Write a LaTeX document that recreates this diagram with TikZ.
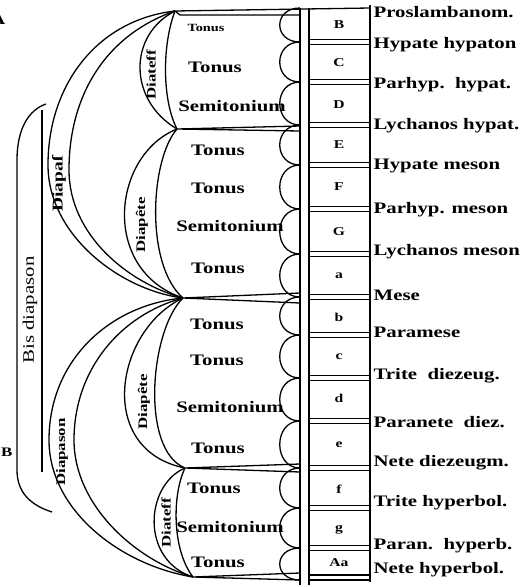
\documentclass[tikz,border=0pt]{standalone}
\usepackage{fontspec}
\setmainfont{Liberation Serif}[FakeStretch=1.3]
\usetikzlibrary{positioning}

\begin{document}
\begin{tikzpicture}[
    x=1pt, y=-1pt,
    line width=1.3pt,
    tone/.style={font=\fontsize{16}{16}\selectfont\bfseries, inner sep=0pt},
    note/.style={anchor=west, font=\fontsize{16}{16}\selectfont\bfseries, inner sep=0pt},
    key/.style={font=\fontsize{12}{12}\selectfont\bfseries, inner sep=0pt},
    span/.style={rotate=90, font=\fontsize{13}{13}\selectfont\bfseries, inner sep=0pt}
]
\useasboundingbox (0,0) rectangle (526,587);

% Apex points
\coordinate (apexA) at (175,11);
\coordinate (apexB) at (177,129);
\coordinate (apexC) at (183,298);
\coordinate (apexD) at (185,468);
\coordinate (apexE) at (193,577);

% Strips and boxes
\draw (300,8) -- (300,585);
\draw (309,8) -- (309,585);
\draw (370,5) -- (370,582);
\draw (370,8) -- (apexA) -- (180,15) -- (300,15);
\draw (300,126) -- (apexB) -- (300,131);
\draw (300,293) -- (apexC) -- (300,303);
\draw (300,464) -- (apexD) -- (300,472);
\draw (300,573) -- (apexE) -- (300,580);
\draw (309,575) -- (370,575);
\draw (309,580) -- (370,580);
\foreach \s in {42,82,125,165,209,254,297,335,378,421,468,508,548}{
    \draw (309,\s-2.5) -- (370,\s-2.5);
    \draw (309,\s+2.5) -- (370,\s+2.5);
}
\foreach \ya/\yb in {8/42,42/82,82/125,125/165,165/209,209/254,254/297,297/335,335/378,378/421,421/468,468/508,508/548,548/580}
    \draw (300,\ya) .. controls (273,\ya) and (273,\yb) .. (300,\yb);

% Arcs
\draw (apexA) .. controls (97,20) and (48,85) .. (48,165) .. controls (48,235) and (120,290) .. (apexC);
\draw (apexA) .. controls (106,35) and (69,95) .. (69,170) .. controls (69,235) and (128,283) .. (apexC);
\draw (apexA) .. controls (128,35) and (128,100) .. (apexB);
\draw (apexA) .. controls (162,45) and (162,100) .. (apexB);
\draw (apexB) .. controls (112,155) and (100,270) .. (apexC);
\draw (apexB) .. controls (150,160) and (145,265) .. (apexC);
\draw (apexC) .. controls (110,305) and (49,360) .. (49,440) .. controls (49,510) and (120,565) .. (apexE);
\draw (apexC) .. controls (120,315) and (74,370) .. (74,440) .. controls (74,505) and (135,560) .. (apexE);
\draw (apexC) .. controls (115,330) and (95,450) .. (apexD);
\draw (apexC) .. controls (150,330) and (140,450) .. (apexD);
\draw (apexD) .. controls (145,485) and (140,560) .. (apexE);
\draw (apexD) .. controls (172,495) and (172,550) .. (apexE);
\draw (46,104) .. controls (28,110) and (17,130) .. (17,160) -- (17,470) .. controls (17,492) and (30,505) .. (52,512);
\draw (42,110) -- (42,472);

% Span labels
\node[span] (diatessA) at (151,75) {Diateff};
\node[span, font=\fontsize{15}{15}\selectfont\bfseries] (diapasA) at (59,184) {Diapaſ};
\node[span] (diapenA) at (142,225) {Diapête};
\node[span] (diapenB) at (144,402) {Diapête};
\node[span] (diapasB) at (62,452) {Diapason};
\node[span] (diatessB) at (166,523) {Diateff};
\node[span, font=\fontsize{16}{16}\selectfont] (bisdiap) at (30,310) {Bis diapason};
\node[tone, anchor=east] (letA) at (6,19) {A};
\node[tone, font=\fontsize{13}{13}\selectfont\bfseries, anchor=west] (letB) at (0.5,452) {B};

% Intervals
\node[tone, font=\fontsize{11}{11}\selectfont\bfseries] (tonA) at (206,28) {Tonus};
\node[tone] (tonB) at (215,67) {Tonus};
\node[tone] (semiA) at (232,106) {Semitonium};
\node[tone] (tonC) at (218,150) {Tonus};
\node[tone] (tonD) at (218,188) {Tonus};
\node[tone] (semiB) at (230,226) {Semitonium};
\node[tone] (tonE) at (218,268) {Tonus};
\node[tone] (tonF) at (217,324) {Tonus};
\node[tone] (tonG) at (217,360) {Tonus};
\node[tone] (semiC) at (230,407) {Semitonium};
\node[tone] (tonH) at (218,448) {Tonus};
\node[tone] (tonI) at (214,488) {Tonus};
\node[tone] (semiD) at (230,527) {Semitonium};
\node[tone] (tonJ) at (218,562) {Tonus};

% Keys
\node[key] (keyB) at (339,25) {B};
\node[key] (keyC) at (339,63) {C};
\node[key] (keyD) at (339,105) {D};
\node[key] (keyE) at (339,145) {E};
\node[key] (keyF) at (339,187) {F};
\node[key] (keyG) at (339,232) {G};
\node[key] (keya) at (339,276) {a};
\node[key] (keyb) at (339,317) {b};
\node[key] (keyc) at (339,357) {c};
\node[key] (keyd) at (339,398) {d};
\node[key] (keye) at (339,445) {e};
\node[key] (keyf) at (339,489) {f};
\node[key] (keyg) at (339,530) {g};
\node[key] (keyaa) at (339,563) {Aa};

% Notes
\node[note] (proslamb) at (373,12) {Proslambanom.};
\node[note] (hyphyp) at (373,45) {Hypate hypaton};
\node[note] (parhyp) at (373,85) {Parhyp.\ \ hypat.};
\node[note] (lichhyp) at (373,126) {Lychanos hypat.};
\node[note] (hypmes) at (373,166) {Hypate meson};
\node[note] (parmes) at (373,210) {Parhyp. meson};
\node[note] (lichmes) at (373,252) {Lychanos meson};
\node[note] (mese) at (373,295) {Mese};
\node[note] (paramese) at (373,332) {Paramese};
\node[note] (tritedie) at (373,376) {Trite\ \ diezeug.};
\node[note] (paradie) at (373,422) {Paranete\ \ diez.};
\node[note] (netedie) at (373,463) {Nete diezeugm.};
\node[note] (tritehyp) at (373,503) {Trite hyperbol.};
\node[note] (parahyp) at (373,546) {Paran.\ \ hyperb.};
\node[note] (netehyp) at (373,570) {Nete hyperbol.};

\end{tikzpicture}
\end{document}
